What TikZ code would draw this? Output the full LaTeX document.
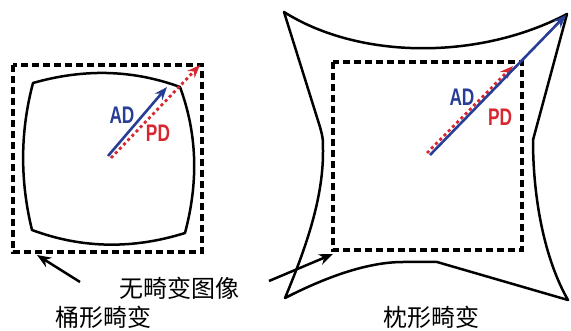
\documentclass[tikz,border=0pt]{standalone}
\usepackage{fontspec}
\setmainfont{Liberation Sans}
\newfontfamily\cjk{Noto Sans CJK SC}
\usetikzlibrary{arrows.meta}
\definecolor{adblue}{RGB}{40,62,150}
\definecolor{pdred}{RGB}{215,40,50}
\tikzset{
  dashsq/.style={draw=black,line width=3.2pt,dash pattern=on 7pt off 4pt},
  outline/.style={draw=black,line width=2.5pt,line join=round},
  adarrow/.style={draw=adblue,line width=2.6pt,-{Stealth[length=13pt,width=10pt]}},
  pdarrow/.style={draw=pdred,line width=2.8pt,dash pattern=on 3pt off 3pt,-{Stealth[length=13pt,width=10pt,fill=pdred]}},
  ptr/.style={draw=black,line width=2.5pt,-{Stealth[length=14pt,width=11pt]}},
  adlbl/.style={text=adblue,font=\bfseries\fontsize{24}{24}\selectfont,inner sep=0pt},
  pdlbl/.style={text=pdred,font=\bfseries\fontsize{24}{24}\selectfont,inner sep=0pt},
  cjklbl/.style={font=\cjk\fontsize{24}{24}\selectfont,inner sep=0pt}
}
\begin{document}
\begin{tikzpicture}[x=1pt,y=-1pt]
\useasboundingbox (0,0) rectangle (571,331);
% barrel distortion
\path[outline] (33,83) .. controls (82,69) and (131,69) .. (180,87)
  .. controls (198,136) and (198,184) .. (185,233)
  .. controls (134,249) and (83,249) .. (32,230)
  .. controls (20,181) and (20,132) .. cycle;
\path[dashsq] (13,65) rectangle (202,252);
\coordinate (o1) at (108,156);
\coordinate (o1r) at (111,158);
\coordinate (a1) at (167,87);
\coordinate (p1) at (200,65);
\draw[pdarrow] (o1r) -- (p1);
\draw[adarrow] (o1) -- (a1);
\node[adlbl] (ad1) at (122,115) {\scalebox{0.72}[1]{AD}};
\node[pdlbl] (pd1) at (158,133) {\scalebox{0.72}[1]{PD}};
% pincushion distortion
\path[outline] (284,12) .. controls (360,60) and (480,60) .. (567,14)
  -- (533,140) .. controls (533,200) and (545,260) .. (568,300)
  -- (437,262) -- (403,262) .. controls (370,262) and (330,275) .. (285,298)
  .. controls (305,250) and (323,200) .. (323,152)
  .. controls (323,138) .. (320,127) -- cycle;
\path[dashsq] (333,62) rectangle (522,250);
\coordinate (o2) at (430,155);
\coordinate (o2r) at (427,153);
\coordinate (a2) at (566,15);
\coordinate (p2) at (513,66);
\draw[pdarrow] (o2r) -- (p2);
\draw[adarrow] (o2) -- (a2);
\node[adlbl] (ad2) at (462,97) {\scalebox{0.72}[1]{AD}};
\node[pdlbl] (pd2) at (500,117) {\scalebox{0.72}[1]{PD}};
% labels
\node[cjklbl] (und) at (179,288) {无畸变图像};
\node[cjklbl] (bar) at (104,317) {桶形畸变};
\node[cjklbl] (pin) at (431,317) {枕形畸变};
\coordinate (t1) at (80,282);
\coordinate (h1) at (37,255);
\coordinate (t2) at (269,281);
\coordinate (h2) at (333,254);
\draw[ptr] (t1) -- (h1);
\draw[ptr] (t2) -- (h2);
\end{tikzpicture}
\end{document}
